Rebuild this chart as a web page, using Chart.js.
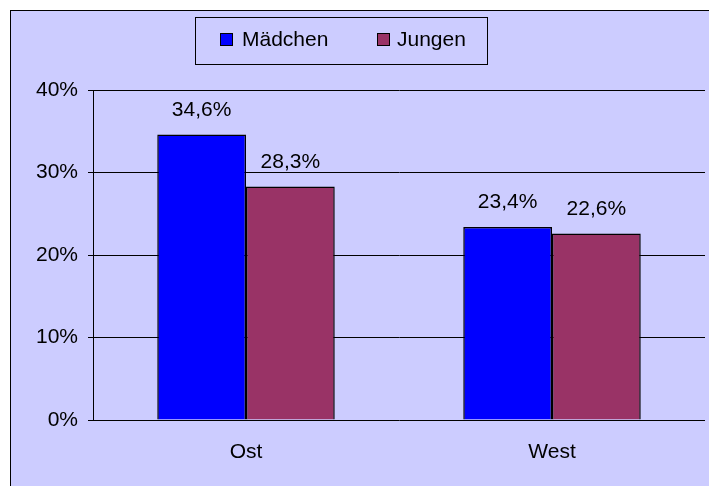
<!DOCTYPE html>
<html>
<head>
<meta charset="utf-8">
<script src="https://cdn.jsdelivr.net/npm/chart.js@4/dist/chart.umd.min.js"></script>
<style>
  html, body { margin: 0; padding: 0; background: #fff; }
  #wrap { width: 709px; height: 486px; position: relative; }
</style>
</head>
<body>
<div id="wrap"><canvas id="chart"></canvas></div>
<script>
const regions = ['Ost', 'West'];
const girls = [34.6, 23.4];
const boys = [28.3, 22.6];
const yTicks = [0, 10, 20, 30, 40];

const FONT = '"Liberation Sans", Arial, sans-serif';
const FSIZE = 21;

// lavender panel with a frame that runs off the right and bottom edges
const framePlugin = {
    id: 'frame',
    beforeDraw(chart) {
        const c = chart.ctx;
        c.save();
        c.fillStyle = '#ffffff';
        c.fillRect(0, 0, chart.width, chart.height);
        c.fillStyle = '#CCCCFF';
        c.fillRect(10, 10, chart.width, chart.height);
        c.strokeStyle = '#000';
        c.lineWidth = 1;
        c.strokeRect(10.5, 10.5, chart.width + 20, chart.height + 20);
        c.restore();
    }
};

// boxed legend at the top
const boxLegend = {
    id: 'boxLegend',
    afterDraw(chart) {
        const c = chart.ctx;
        c.save();
        c.strokeStyle = '#000';
        c.lineWidth = 1;
        c.strokeRect(195.5, 17.5, 292, 47);
        const xs = [[220, 242], [377, 397]];
        c.font = FSIZE + 'px ' + FONT;
        c.textBaseline = 'middle';
        chart.data.datasets.forEach((ds, i) => {
            c.fillStyle = ds.backgroundColor;
            c.fillRect(xs[i][0], 33, 13, 13);
            c.strokeStyle = '#000';
            c.strokeRect(xs[i][0] + 0.5, 33.5, 12, 12);
            c.fillStyle = '#000';
            c.fillText(ds.label, xs[i][1], 40);
        });
        c.restore();
    }
};

// value labels above the bars
const valueLabels = {
    id: 'valueLabels',
    afterDatasetsDraw(chart) {
        const c = chart.ctx;
        c.save();
        c.font = FSIZE + 'px ' + FONT;
        c.fillStyle = '#000';
        c.textAlign = 'center';
        c.textBaseline = 'alphabetic';
        chart.data.datasets.forEach((ds, i) => {
            chart.getDatasetMeta(i).data.forEach((bar, j) => {
                const txt = ds.data[j].toFixed(1).replace('.', ',') + '%';
                c.fillText(txt, bar.x, bar.y - 19);
            });
        });
        c.restore();
    }
};

new Chart(document.getElementById('chart'), {
    type: 'bar',
    data: {
        labels: regions,
        datasets: [
            {
                label: 'Mädchen',
                data: girls,
                backgroundColor: '#0000FF',
                borderColor: '#000',
                borderWidth: 1.5,
                borderSkipped: 'bottom'
            },
            {
                label: 'Jungen',
                data: boys,
                backgroundColor: '#993366',
                borderColor: '#000',
                borderWidth: 1.5,
                borderSkipped: 'bottom'
            }
        ]
    },
    options: {
        responsive: true,
        maintainAspectRatio: false,
        animation: false,
        categoryPercentage: 0.58,
        barPercentage: 1,
        layout: { padding: { left: 0, right: 4, top: 90, bottom: 0 } },
        plugins: {
            legend: { display: false },
            tooltip: { enabled: false }
        },
        scales: {
            x: {
                grid: { display: false, drawTicks: false },
                border: { display: false },
                ticks: { color: '#000', padding: 20, font: { family: FONT, size: FSIZE } },
                afterFit(scale) { scale.height = 66; }
            },
            y: {
                min: 0,
                max: 40,
                afterBuildTicks(scale) { scale.ticks = yTicks.map(v => ({ value: v })); },
                grid: { color: '#000', lineWidth: 1, tickLength: 5, drawTicks: true },
                border: { display: true, color: '#000', width: 1 },
                ticks: {
                    color: '#000',
                    padding: 10,
                    font: { family: FONT, size: FSIZE },
                    callback: v => v + '%'
                },
                afterFit(scale) { scale.width = 93; }
            }
        }
    },
    plugins: [framePlugin, boxLegend, valueLabels]
});
</script>
</body>
</html>
